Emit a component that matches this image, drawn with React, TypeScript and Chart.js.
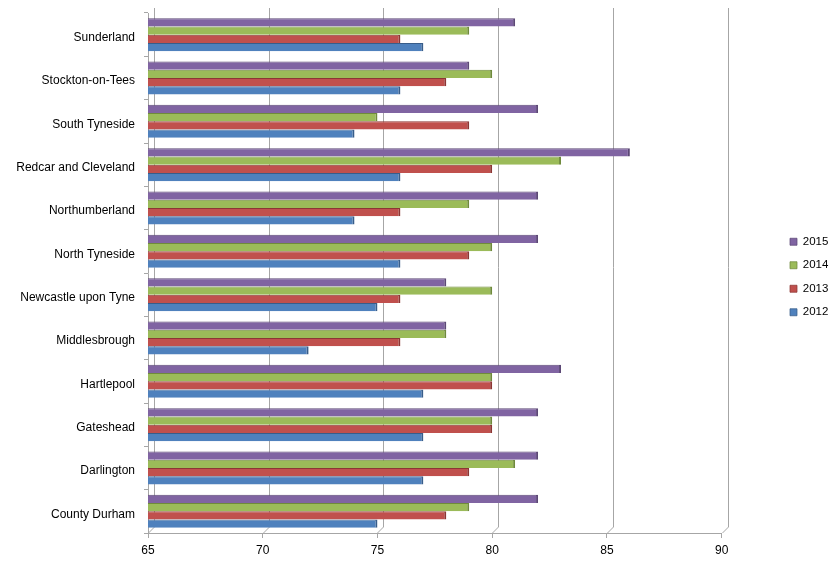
import React, { useEffect, useRef } from "react";
import { Chart, registerables } from "chart.js";

Chart.register(...registerables);

const categories = [
  "Sunderland",
  "Stockton-on-Tees",
  "South Tyneside",
  "Redcar and Cleveland",
  "Northumberland",
  "North Tyneside",
  "Newcastle upon Tyne",
  "Middlesbrough",
  "Hartlepool",
  "Gateshead",
  "Darlington",
  "County Durham",
];
const values2015 = [81, 79, 82, 86, 82, 82, 78, 78, 83, 82, 82, 82];
const values2014 = [79, 80, 75, 83, 79, 80, 80, 78, 80, 80, 81, 79];
const values2013 = [76, 78, 79, 80, 76, 79, 76, 76, 80, 80, 79, 78];
const values2012 = [77, 76, 74, 76, 74, 76, 75, 72, 77, 77, 77, 75];
const xTicks = [65, 70, 75, 80, 85, 90];

const FONT = "Liberation Sans";
const GRID = "#a6a6a6";
const DEPTH = 6;

const wallPlugin = {
  id: "wall3d",
  beforeDatasetsDraw(chart: any) {
    const { ctx, chartArea } = chart;
    const xs = chart.scales.x;
    ctx.save();
    ctx.strokeStyle = GRID;
    ctx.lineWidth = 1;
    xTicks.forEach((v) => {
      const px = Math.round(xs.getPixelForValue(v)) + 0.5;
      ctx.beginPath();
      ctx.moveTo(px + DEPTH, chartArea.top - 5);
      ctx.lineTo(px + DEPTH, chartArea.bottom - DEPTH);
      ctx.lineTo(px, chartArea.bottom);
      ctx.stroke();
    });
    ctx.restore();
  },
  afterLayout(chart: any) {
    const lg = chart.legend;
    if (lg) {
      const w = lg.width;
      const h = lg.height;
      lg.left = 770;
      lg.right = 770 + w;
      lg.top = lg.top - 9;
      lg.bottom = lg.top + h;
    }
  },
};

export default function App() {
  const ref = useRef<HTMLCanvasElement>(null);
  useEffect(() => {
    if (!ref.current) return;
    const mk = (label: string, data: number[], color: string, dark: string) => ({
      label,
      data,
      backgroundColor: color,
      borderColor: dark,
      borderWidth: { top: 1, right: 2, bottom: 0, left: 0 },
      borderSkipped: false,
      barPercentage: 1,
      categoryPercentage: 0.76,
    });
    const chart = new Chart(ref.current, {
      type: "bar",
      data: {
        labels: categories,
        datasets: [
          mk("2015", values2015, "#8064A2", "#5c4876"),
          mk("2014", values2014, "#9BBB59", "#6f8a3c"),
          mk("2013", values2013, "#C0504D", "#8c3634"),
          mk("2012", values2012, "#4F81BD", "#385d8a"),
        ],
      },
      options: {
        indexAxis: "y",
        animation: false,
        responsive: true,
        maintainAspectRatio: false,
        layout: { padding: { top: 5, bottom: 2, left: 0, right: 49 } },
        scales: {
          x: {
            min: 65,
            max: 90,
            afterBuildTicks: (s: any) => {
              s.ticks = xTicks.map((v) => ({ value: v }));
            },
            afterFit: (s: any) => {
              s.height = 26;
            },
            grid: {
              drawOnChartArea: false,
              drawTicks: true,
              tickLength: 5,
              color: GRID,
            },
            border: { display: true, color: GRID },
            ticks: {
              color: "#000",
              padding: 5,
              font: { family: FONT, size: 12 },
              maxRotation: 0,
            },
          },
          y: {
            afterFit: (s: any) => {
              s.width = 140;
              s.paddingTop = 0;
              s.paddingBottom = 0;
            },
            grid: {
              display: true,
              drawOnChartArea: false,
              drawTicks: true,
              tickLength: 4,
              offset: true,
              color: GRID,
            },
            border: { display: true, color: GRID },
            ticks: {
              color: "#000",
              padding: 9,
              labelOffset: 3,
              font: { family: FONT, size: 12 },
            },
          },
        },
        plugins: {
          legend: {
            position: "right",
            labels: {
              boxWidth: 7,
              boxHeight: 7,
              padding: 12,
              color: "#000",
              font: { family: FONT, size: 11.5 },
            },
          },
          tooltip: { enabled: false },
        },
      },
      plugins: [wallPlugin],
    });
    return () => chart.destroy();
  }, []);
  return (
    <div style={{ width: 823, height: 553, position: "relative" }}>
      <canvas ref={ref} />
    </div>
  );
}
